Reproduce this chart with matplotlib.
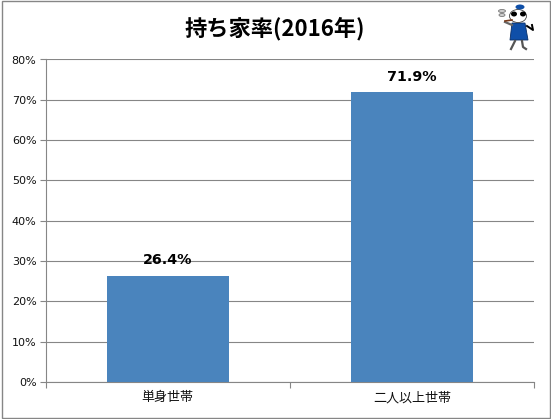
import matplotlib
matplotlib.use('Agg')
import matplotlib.pyplot as plt
from matplotlib.patches import Rectangle, Ellipse, Polygon

plt.rcParams['font.family'] = ['DejaVu Sans', 'Noto Sans CJK JP']

categories = ['単身世帯', '二人以上世帯']
values = [26.4, 71.9]
value_labels = ['26.4%', '71.9%']
y_ticks = [0, 10, 20, 30, 40, 50, 60, 70, 80]

W, H = 551, 419
fig = plt.figure(figsize=(W / 100, H / 100), dpi=100, facecolor='white')

# chart border
fig.add_artist(Rectangle((1.5 / W, 1.5 / H), (W - 3) / W, (H - 3) / H, transform=fig.transFigure,
                         fill=False, edgecolor='#868686', linewidth=1))

ax = fig.add_axes([45.5 / W, 1 - 382 / H, (534 - 45.5) / W, (382 - 59.5) / H])
ax.bar([0, 1], values, width=0.5, color='#4a84bd', zorder=3)
ax.set_xlim(-0.5, 1.5)
ax.set_ylim(0, 80)
ax.set_yticks(y_ticks)
ax.set_yticklabels([f'{v}%' for v in y_ticks], fontsize=8, color='#111111')
ax.set_xticks([-0.5, 0.5, 1.5])
ax.set_xticklabels([])
ax.tick_params(axis='both', length=4, width=0.8, color='#868686', pad=2.5)
ax.grid(axis='y', color='#868686', linewidth=0.8, zorder=1)
ax.set_axisbelow(True)
for name in ['top', 'right']:
    ax.spines[name].set_visible(False)
for name in ['left', 'bottom']:
    ax.spines[name].set_color('#868686')
    ax.spines[name].set_linewidth(0.8)

for x, name, v, lab in zip([0, 1], categories, values, value_labels):
    ax.text(x, -3.9, name, ha='center', va='center', fontsize=9.4, color='#111111',
            family=['Noto Sans CJK JP', 'DejaVu Sans'])
    ax.text(x, v + 2.1, lab, ha='center', va='bottom', fontsize=10.3, fontweight='bold', color='black')

fig.text(274.5 / W, 1 - 29 / H, '持ち家率(2016年)', ha='center', va='center', fontsize=16,
         fontweight='bold', family=['Noto Sans CJK JP', 'DejaVu Sans'])

# small mascot at the top right, drawn in page pixels
m = fig.add_axes([490 / W, 1 - 54 / H, 50 / W, 54 / H])
m.set_xlim(490, 540)
m.set_ylim(54, 0)
m.axis('off')
lw = 0.6
m.plot([527, 533, 532], [26, 30, 25], color='black', linewidth=1.4)
m.plot([515, 512, 511], [41, 47, 49], color='#555555', linewidth=1.6)
m.plot([522, 523, 526], [41, 47, 49], color='#555555', linewidth=1.6)
m.add_patch(Polygon([(512, 23), (525, 23), (528, 40), (510, 40)], facecolor='#0f4fa8', edgecolor='#0a2f66', linewidth=lw))
m.plot([512, 505], [25, 22], color='#666666', linewidth=1.6)
m.add_patch(Ellipse((518, 16), 17, 13, facecolor='white', edgecolor='#444444', linewidth=lw))
m.add_patch(Ellipse((514, 14), 6, 5, facecolor='black', edgecolor='none'))
m.add_patch(Ellipse((523, 14), 6, 5, facecolor='black', edgecolor='none'))
m.add_patch(Ellipse((520, 7), 9, 5, facecolor='#0f4fa8', edgecolor='none'))
m.plot([505, 512], [21, 20], color='#7a3b1a', linewidth=1.2)
m.add_patch(Ellipse((502, 11), 7, 3, facecolor='#cccccc', edgecolor='#777777', linewidth=lw))
m.add_patch(Ellipse((502, 15), 6, 3, facecolor='#cccccc', edgecolor='#777777', linewidth=lw))

fig.savefig('out.png', dpi=100)
